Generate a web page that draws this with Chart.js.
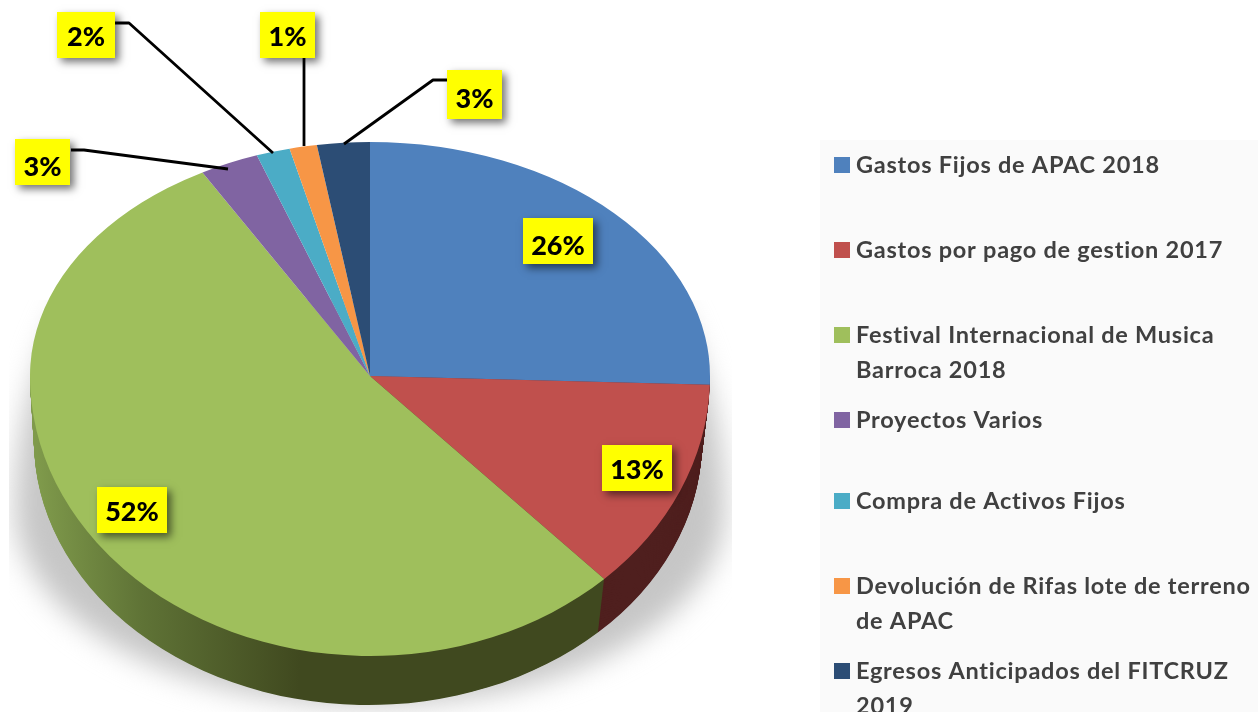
<!DOCTYPE html>
<html>
<head>
<meta charset="utf-8">
<title>Egresos</title>
<script src="https://cdn.jsdelivr.net/npm/chart.js@4"></script>
<style>
  html, body { margin: 0; padding: 0; background: #fff; }
  #wrap { width: 1258px; height: 712px; }
</style>
</head>
<body>
<div id="wrap"><canvas id="grafico" width="1258" height="712"></canvas></div>
<script>
// categorias y valores
const categorias = [
  "Gastos Fijos de APAC 2018",
  "Gastos por pago de gestion 2017",
  ["Festival Internacional de Musica", "Barroca 2018"],
  "Proyectos Varios",
  "Compra de Activos Fijos",
  ["Devolución de Rifas lote de terreno", "de APAC"],
  ["Egresos Anticipados del FITCRUZ", "2019"],
];
const valores = [25.5, 12.4, 53.9, 2.8, 1.6, 1.3, 2.5];
const etiquetas = ["26%", "13%", "52%", "3%", "2%", "1%", "3%"];
const colores = ["#4f81bd", "#c0504d", "#9fbf5c", "#8064a2", "#4bacc6", "#f79646", "#2c4d75"];
const coloresLado = ["#2a4a70", "#4f1f1e", "#40491f", "#4b3a60", "#2a6475", "#93561f", "#1a2e46"];

// posicion de las cajas amarillas y sus lineas guia
const cajas = [
  { x: 523, y: 218, w: 70, h: 46, ty: 246 },
  { x: 602, y: 445, w: 70, h: 46, ty: 470.5 },
  { x: 97, y: 487, w: 70, h: 46, ty: 512.5 },
  { x: 15, y: 139, w: 55, h: 46, ty: 167, guia: [[71, 150], [84, 150], [228, 169]] },
  { x: 57, y: 12, w: 58, h: 46, ty: 37, guia: [[115, 23], [129, 23], [273, 153]] },
  { x: 260, y: 12, w: 55, h: 46, ty: 37, guia: [[304, 58], [304, 146]] },
  { x: 447, y: 70, w: 55, h: 49, ty: 99, guia: [[447, 80], [433, 80], [344, 144]] },
];
const leyendaY = [165, 250, 335, 420, 501, 586, 671];

const CX = 370, CY_CHART = 356, RADIO = 340;
const APEX = 376, ESC_ARRIBA = 234 / 340, ESC_ABAJO = 280 / 340;
const FONDO = { cx: 368, cy: 441, rx: 334, ry: 264 };

function dibujarArcos(chart) {
  chart.getDatasetMeta(0).data.forEach(a => a.draw(chart.ctx));
}

const pastel3d = {
  id: "pastel3d",
  beforeDatasetsDraw(chart) {
    const ctx = chart.ctx;
    const arcos = chart.getDatasetMeta(0).data;

    // sombra bajo el pastel, recortada a los lados como en la figura
    ctx.save();
    ctx.beginPath();
    ctx.rect(9, 300, 723, 412);
    ctx.clip();
    ctx.filter = "blur(14px)";
    ctx.fillStyle = "#c6c6c6";
    ctx.beginPath();
    ctx.ellipse(370, 510, 355, 400, 0, Math.PI, Math.PI * 2);
    ctx.ellipse(370, 510, 355, 195, 0, 0, Math.PI);
    ctx.fill();
    ctx.restore();

    // pared lateral: se apilan copias de los arcos hacia abajo
    const gradVerde = ctx.createLinearGradient(35, 0, 300, 0);
    gradVerde.addColorStop(0, "#7f9a4b");
    gradVerde.addColorStop(0.4, "#5f7336");
    gradVerde.addColorStop(1, "#40491f");
    const originales = arcos.map(a => a.options);
    arcos.forEach((a, i) => {
      a.options = Object.assign({}, a.options, { backgroundColor: i === 2 ? gradVerde : coloresLado[i] });
    });
    const pasos = 70;
    ctx.save();
    ctx.beginPath();
    ctx.rect(0, APEX, 760, 712 - APEX);
    ctx.clip();
    for (let p = pasos; p >= 1; p--) {
      const t = p / pasos;
      const cx = CX + (FONDO.cx - CX) * t;
      const cy = APEX + (FONDO.cy - APEX) * t;
      const sx = (RADIO + (FONDO.rx - RADIO) * t) / RADIO;
      const sy = (280 + (FONDO.ry - 280) * t) / RADIO;
      ctx.save();
      ctx.translate(cx, cy);
      ctx.scale(sx, sy);
      ctx.translate(-CX, -CY_CHART);
      dibujarArcos(chart);
      ctx.restore();
    }
    ctx.restore();
    arcos.forEach((a, i) => { a.options = originales[i]; });

    // cara superior, mitad de atras mas achatada que la de adelante
    ctx.save();
    ctx.beginPath();
    ctx.rect(0, 0, 760, APEX + 0.5);
    ctx.clip();
    ctx.translate(0, APEX);
    ctx.scale(1, ESC_ARRIBA);
    ctx.translate(0, -CY_CHART);
    dibujarArcos(chart);
    ctx.restore();

    ctx.save();
    ctx.beginPath();
    ctx.rect(0, APEX, 760, 712 - APEX);
    ctx.clip();
    ctx.translate(0, APEX);
    ctx.scale(1, ESC_ABAJO);
    ctx.translate(0, -CY_CHART);
    dibujarArcos(chart);
    ctx.restore();

    return false;
  },
  afterDraw(chart) {
    const ctx = chart.ctx;

    // panel de la leyenda
    ctx.save();
    ctx.fillStyle = "#fafafa";
    ctx.fillRect(820, 140, 438, 572);
    ctx.textBaseline = "middle";
    ctx.textAlign = "left";
    ctx.font = "bold 23.5px Lato";
    ctx.letterSpacing = "0.75px";
    chart.data.labels.forEach((lab, i) => {
      ctx.fillStyle = colores[i];
      ctx.fillRect(834, leyendaY[i] - 8, 16, 16);
      ctx.fillStyle = "#404040";
      const lineas = Array.isArray(lab) ? lab : [lab];
      lineas.forEach((l, k) => ctx.fillText(l, 856, leyendaY[i] + k * 35));
    });
    ctx.restore();

    // lineas guia
    ctx.save();
    ctx.strokeStyle = "#000";
    ctx.lineWidth = 2.8;
    ctx.lineJoin = "round";
    cajas.forEach(c => {
      if (!c.guia) return;
      ctx.beginPath();
      c.guia.forEach((p, k) => (k ? ctx.lineTo(p[0], p[1]) : ctx.moveTo(p[0], p[1])));
      ctx.stroke();
    });
    ctx.restore();

    // etiquetas amarillas
    cajas.forEach((c, i) => {
      ctx.save();
      ctx.shadowColor = "rgba(0,0,0,0.55)";
      ctx.shadowBlur = 8;
      ctx.shadowOffsetX = 4;
      ctx.shadowOffsetY = 4;
      ctx.fillStyle = "#ffff00";
      ctx.fillRect(c.x, c.y, c.w, c.h);
      ctx.restore();
      ctx.save();
      ctx.fillStyle = "#000";
      ctx.font = "900 27px Lato";
      ctx.textAlign = "center";
      ctx.textBaseline = "middle";
      ctx.fillText(etiquetas[i], c.x + c.w / 2, c.ty);
      ctx.restore();
    });
  },
};

new Chart(document.getElementById("grafico"), {
  type: "pie",
  data: {
    labels: categorias,
    datasets: [{ data: valores, backgroundColor: colores, borderWidth: 0 }],
  },
  options: {
    responsive: false,
    animation: false,
    radius: RADIO,
    layout: { padding: { right: 1258 - 740 } },
    plugins: { legend: { display: false }, tooltip: { enabled: false } },
  },
  plugins: [pastel3d],
});
</script>
</body>
</html>
